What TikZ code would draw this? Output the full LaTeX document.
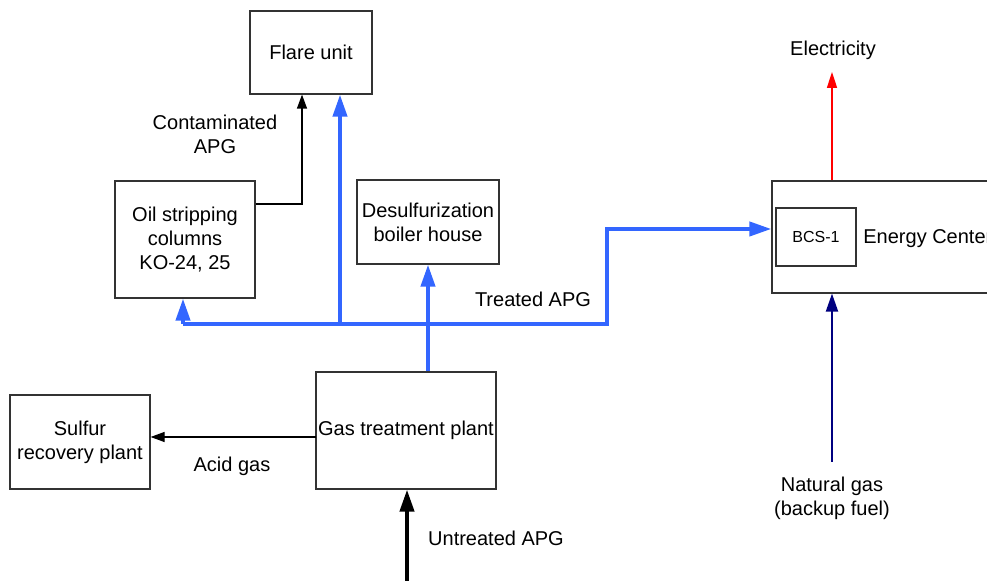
\documentclass[tikz,border=0pt]{standalone}
\usepackage{fontspec}
\setmainfont{Liberation Sans}
\usepackage{tikz}
\usetikzlibrary{positioning,arrows.meta,calc}
\usepackage{xcolor}
\definecolor{flowblue}{HTML}{3366FF}
\definecolor{flowred}{HTML}{FF0000}
\definecolor{flownavy}{HTML}{000080}
\definecolor{boxline}{HTML}{333333}

\begin{document}
\begin{tikzpicture}[x=0.5pt,y=-0.5pt,
    font=\fontsize{10pt}{12pt}\selectfont,
    unit/.style={draw=boxline,line width=0.6pt,align=center,inner sep=0pt},
    label/.style={align=center,inner sep=0pt},
    gasflow/.style={flowblue,line width=2pt,-{Triangle[length=11pt,width=7pt]}},
    thinflow/.style={black,line width=0.6pt,-{Triangle[length=7pt,width=5pt]}}]
        \clip(0,0)rectangle(987,581);
        % units
        \node[unit,minimum width=61pt,minimum height=41.5pt](flare)at(311,52.5){Flare unit};
        \node[unit,minimum width=70pt,minimum height=58.5pt](strip)at(185,239.5){Oil stripping\\columns\\KO-24, 25};
        \node[unit,minimum width=71pt,minimum height=42pt](desulf)at(428,222){Desulfurization\\boiler house};
        \node[unit,minimum width=90pt,minimum height=58.5pt](gtp)at(406,430.5){Gas treatment plant};
        \node[unit,minimum width=70pt,minimum height=47pt](sulfur)at(80,442){Sulfur\\recovery plant};
        \node[unit,minimum width=114pt,minimum height=56pt](energy)at(886,237){};
        \node[unit,minimum width=40pt,minimum height=29pt,font=\fontsize{8pt}{10pt}\selectfont](bcs)at(816,237){BCS-1};
        \node[label,anchor=west](energytxt)at(863,239){Energy Center};
        % treated APG network
        \coordinate(jl)at(183,324);
        \coordinate(jm)at(340,324);
        \coordinate(jr)at(607,324);
        \coordinate(jt)at(607,229);
        \draw[flowblue,line width=2pt,line join=miter](jl)--(jr)--(jt)--($(jt)+(40,0)$);
        \draw[gasflow]($(jt)+(38,0)$)--(jt-|energy.west);
        \draw[gasflow](jl)--(jl|-strip.south);
        \draw[gasflow](jm)--(jm|-flare.south);
        \draw[gasflow](desulf.south|-gtp.north)--(desulf.south);
        \node[label](treated)at(533,299){Treated APG};
        % contaminated APG
        \coordinate(kink)at(302,204);
        \draw[thinflow](kink-|strip.east)--(kink)--(kink|-flare.south);
        \node[label](contam)at(215,134){Contaminated\\APG};
        % acid gas
        \coordinate(acid)at(316,437);
        \draw[thinflow](acid)--(acid-|sulfur.east);
        \node[label](acidtxt)at(232,466){Acid gas};
        % feed
        \coordinate(feed)at(407,581);
        \draw[black,line width=2pt,-{Triangle[length=11pt,width=7pt]}](feed)--(feed|-gtp.south);
        \node[label](untreated)at(496,538){Untreated APG};
        % energy center in/out
        \coordinate(elec)at(832,72);
        \draw[flowred,line width=0.8pt,-{Triangle[length=8pt,width=5pt]}](energy.north-|elec)--(elec);
        \node[label](electxt)at(833,50){Electricity};
        \coordinate(ng)at(832,462);
        \draw[flownavy,line width=1pt,-{Triangle[length=9pt,width=6pt]}](ng)--(ng|-energy.south);
        \node[label](ngtxt)at(832,498){Natural gas\\(backup fuel)};
      \end{tikzpicture}
\end{document}
